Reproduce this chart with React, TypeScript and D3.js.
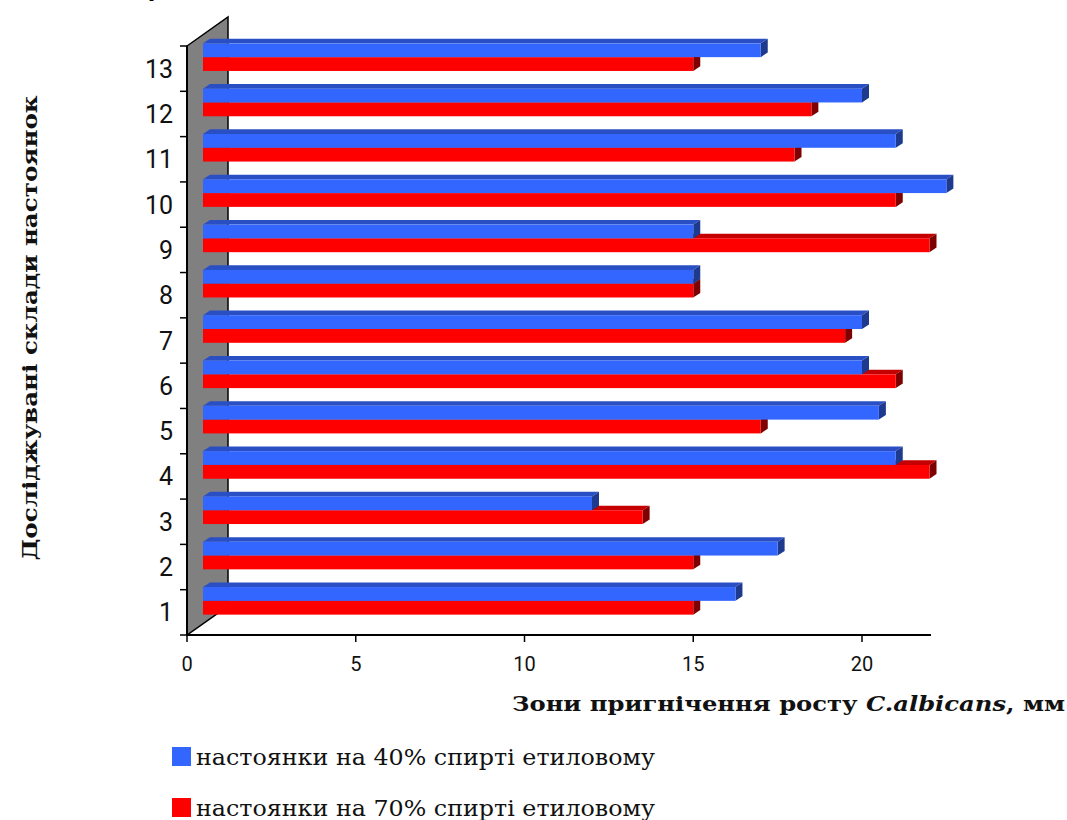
import React from "react";
import * as d3 from "d3";

const categories = ["1", "2", "3", "4", "5", "6", "7", "8", "9", "10", "11", "12", "13"];
const series40 = [16.25, 17.5, 12, 21, 20.5, 20, 20, 15, 15, 22.5, 21, 20, 17];
const series70 = [15, 15, 13.5, 22, 17, 21, 19.5, 15, 22, 21, 18, 18.5, 15];
const xTicks = [0, 5, 10, 15, 20];
const seriesNames = ["настоянки на 40% спирті етиловому", "настоянки на 70% спирті етиловому"];

const W = 1067;
const H = 820;

const blue = { front: "#3366FF", top: "#2A4FC4", side: "#1E3A8E" };
const red = { front: "#FF0000", top: "#C40000", side: "#7E0000" };

export default function App() {
  const x = d3.scaleLinear().domain([0, 22]).range([187, 929.5]);
  const y = d3
    .scaleBand<string>()
    .domain([...categories].reverse())
    .range([46, 635])
    .paddingInner(0)
    .paddingOuter(0);

  const barStart = x(0) + 16;
  const barH = 13.8;
  const lift = 11.5;
  const dx = 7;
  const dy = -4.6;

  const bar = (v: number, yTop: number, c: { front: string; top: string; side: string }, key: string) => {
    const xe = x(v);
    const yb = yTop + barH;
    return (
      <g key={key}>
        <polygon
          points={`${barStart},${yTop} ${barStart + dx},${yTop + dy} ${xe + dx},${yTop + dy} ${xe},${yTop}`}
          fill={c.top}
        />
        <polygon
          points={`${xe},${yTop} ${xe + dx},${yTop + dy} ${xe + dx},${yb + dy} ${xe},${yb}`}
          fill={c.side}
        />
        <rect x={barStart} y={yTop} width={xe - barStart} height={barH} fill={c.front} />
      </g>
    );
  };

  const wallTop = 46;
  const wallBot = 635;
  const wdx = 41;
  const wdy = -29;

  return (
    <svg
      width={W}
      height={H}
      style={{ position: "absolute", left: 0, top: 0, background: "#fff" }}
      xmlns="http://www.w3.org/2000/svg"
    >
      <rect x={0} y={0} width={W} height={H} fill="#fff" />
      <text x={155} y={-4} fontFamily="DejaVu Serif" fontSize={22} textAnchor="middle">
        у
      </text>

      {/* back wall */}
      <polygon
        points={`${x(0)},${wallTop} ${x(0) + wdx},${wallTop + wdy} ${x(0) + wdx},${wallBot + wdy} ${x(0)},${wallBot}`}
        fill="#808080"
        stroke="#000"
        strokeWidth={1.5}
      />

      {/* y axis */}
      <line x1={x(0)} x2={x(0)} y1={wallTop} y2={wallBot} stroke="#000" strokeWidth={2} />
      {d3.range(categories.length + 1).map((i) => {
        const yy = 46 + i * y.step();
        return <line key={"yt" + i} x1={180} x2={x(0)} y1={yy} y2={yy} stroke="#000" strokeWidth={1.5} />;
      })}
      {categories.map((c) => (
        <text
          key={"yl" + c}
          x={173}
          y={(y(c) as number) + y.bandwidth() / 2 + 9}
          textAnchor="end"
          fontFamily="Roboto"
          fontSize={25}
          fill="#111"
        >
          {c}
        </text>
      ))}

      {/* x axis */}
      <line x1={x(0)} x2={931} y1={wallBot} y2={wallBot} stroke="#000" strokeWidth={2} />
      {xTicks.map((t) => (
        <g key={"xt" + t}>
          <line x1={x(t)} x2={x(t)} y1={wallBot} y2={wallBot + 7} stroke="#000" strokeWidth={1.5} />
          <text x={x(t)} y={671} textAnchor="middle" fontFamily="Roboto" fontSize={20} fill="#111">
            {t}
          </text>
        </g>
      ))}

      {/* bars */}
      {categories.map((c, i) => {
        const center = (y(c) as number) + y.bandwidth() / 2 - lift;
        return (
          <g key={"b" + c}>
            {bar(series70[i], center, red, "r")}
            {bar(series40[i], center - barH, blue, "b")}
          </g>
        );
      })}

      {/* axis titles */}
      <text
        x={512}
        y={711}
        fontFamily="DejaVu Serif"
        fontWeight="bold"
        fontSize={20}
        textLength={553}
        lengthAdjust="spacingAndGlyphs"
        fill="#111"
      >
        Зони пригнічення росту <tspan fontStyle="italic">C.albicans</tspan>, мм
      </text>
      <text
        transform="translate(37,328) rotate(-90)"
        textAnchor="middle"
        fontFamily="DejaVu Serif"
        fontWeight="bold"
        fontSize={20}
        textLength={465}
        lengthAdjust="spacingAndGlyphs"
        fill="#111"
      >
        Досліджувані склади настоянок
      </text>

      {/* legend */}
      <rect x={172} y={747} width={19} height={19} fill={blue.front} />
      <text x={196} y={765} fontFamily="DejaVu Serif" fontSize={22} textLength={459} lengthAdjust="spacingAndGlyphs" fill="#111">
        {seriesNames[0]}
      </text>
      <rect x={172} y={798} width={19} height={19} fill={red.front} />
      <text x={196} y={816} fontFamily="DejaVu Serif" fontSize={22} textLength={459} lengthAdjust="spacingAndGlyphs" fill="#111">
        {seriesNames[1]}
      </text>
    </svg>
  );
}
